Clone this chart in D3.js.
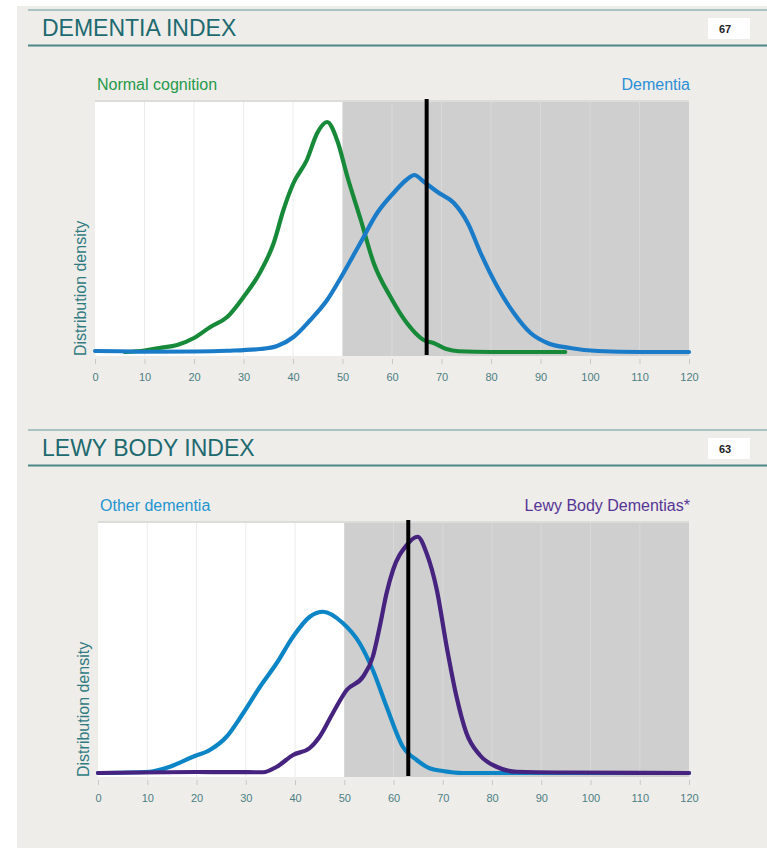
<!DOCTYPE html>
<html>
<head>
<meta charset="utf-8">
<script src="https://cdn.jsdelivr.net/npm/d3@7"></script>
<style>
  html, body { margin: 0; padding: 0; background: #ffffff; }
  svg { display: block; font-family: "Liberation Sans", Arial, sans-serif; }
</style>
</head>
<body>
<svg id="chart" width="767" height="848"></svg>
<script>
// ---------- data ----------
const xTicks = [0, 10, 20, 30, 40, 50, 60, 70, 80, 90, 100, 110, 120];

const dementiaTitle = "DEMENTIA INDEX";
const dementiaScore = 67;
const dementiaThreshold = 50;
const normalLabel = "Normal cognition";
const dementiaLabel = "Dementia";
const normalX = [6, 10, 13, 16.6, 20, 23.3, 26.7, 30, 33.4, 36.1, 38.1, 40.1, 42.8, 44.9, 46.9, 48.9, 51, 53.7, 56.3, 59.7, 63, 66.4, 68.4, 71, 73.5, 80, 90, 95];
const normalY = [0, 0.006, 0.016, 0.028, 0.056, 0.1, 0.14, 0.22, 0.32, 0.436, 0.57, 0.676, 0.768, 0.876, 0.92, 0.848, 0.70, 0.528, 0.356, 0.22, 0.116, 0.048, 0.036, 0.012, 0.003, 0, 0, 0];
const dementiaX = [0, 5, 10, 20, 26.7, 33.4, 36.8, 40.1, 43.5, 46.9, 50.2, 53.6, 57, 60.3, 63, 64.5, 66.5, 69.2, 72.5, 75.3, 77.9, 81.3, 84.6, 88, 91.4, 96, 101.6, 110, 120];
const dementiaY = [0.004, 0.003, 0.001, 0.002, 0.005, 0.012, 0.024, 0.06, 0.128, 0.208, 0.316, 0.436, 0.556, 0.636, 0.69, 0.708, 0.68, 0.64, 0.596, 0.516, 0.396, 0.26, 0.156, 0.076, 0.036, 0.016, 0.004, 0, 0];

const lewyTitle = "LEWY BODY INDEX";
const lewyScore = 63;
const lewyThreshold = 50;
const otherLabel = "Other dementia";
const lewyLabel = "Lewy Body Dementias*";
const otherX = [0, 10.5, 14.6, 19.3, 22.7, 26.1, 29.5, 32.9, 36.3, 39.6, 43, 45.7, 49.7, 53.1, 55.8, 58.6, 61.9, 64.7, 67.3, 70, 74, 80, 120];
const otherY = [0, 0.005, 0.025, 0.065, 0.092, 0.145, 0.24, 0.345, 0.44, 0.545, 0.625, 0.645, 0.6, 0.52, 0.412, 0.265, 0.105, 0.052, 0.019, 0.008, 0, 0, 0];
const lewyX = [0, 20, 33.5, 36.3, 39.6, 43, 45, 47.7, 50.5, 53.8, 55.8, 57.2, 58.6, 59.9, 62.7, 64.9, 66.7, 68.8, 70.8, 72.8, 74.8, 77.5, 80.9, 85, 95, 120];
const lewyY = [0, 0.004, 0.003, 0.025, 0.072, 0.1, 0.145, 0.24, 0.332, 0.385, 0.465, 0.585, 0.72, 0.812, 0.912, 0.945, 0.88, 0.732, 0.505, 0.305, 0.16, 0.072, 0.025, 0.005, 0.002, 0];

const yAxisLabel = "Distribution density";

// ---------- drawing ----------
const svg = d3.select("#chart");
svg.append("rect").attr("x", 17).attr("y", 6).attr("width", 750).attr("height", 842).attr("fill", "#efede9");

const panels = [
  {
    top: 0, title: dementiaTitle, score: dementiaScore, threshold: dementiaThreshold,
    x0: 95, x1: 689, plotTop: 102, plotBottom: 356, base: 352,
    leftLabel: normalLabel, leftColor: "#24994a", rightLabel: dementiaLabel, rightColor: "#2a8fd6",
    series: [
      { xs: normalX, ys: normalY, color: "#178a3a" },
      { xs: dementiaX, ys: dementiaY, color: "#1a7cc8" }
    ]
  },
  {
    top: 420, title: lewyTitle, score: lewyScore, threshold: lewyThreshold,
    x0: 98, x1: 689, plotTop: 523, plotBottom: 777, base: 773,
    leftLabel: otherLabel, leftColor: "#1d95d0", rightLabel: lewyLabel, rightColor: "#553595",
    series: [
      { xs: otherX, ys: otherY, color: "#0b85c6" },
      { xs: lewyX, ys: lewyY, color: "#45237f" }
    ]
  }
];

panels.forEach(p => {
  const g = svg.append("g");
  const t = p.top;
  // header
  g.append("line").attr("x1", 28).attr("x2", 767).attr("y1", t + 10).attr("y2", t + 10)
    .attr("stroke", "#5f9c9c").attr("stroke-width", 1.2);
  g.append("line").attr("x1", 28).attr("x2", 767).attr("y1", t + 45.5).attr("y2", t + 45.5)
    .attr("stroke", "#4a8787").attr("stroke-width", 2);
  g.append("text").attr("x", 42).attr("y", t + 36).text(p.title)
    .attr("fill", "#1d6a70").attr("font-size", 23);
  g.append("rect").attr("x", 708).attr("y", t + 18).attr("width", 42).attr("height", 21).attr("fill", "#ffffff");
  g.append("text").attr("x", 719).attr("y", t + 33).text(p.score)
    .attr("fill", "#222").attr("font-size", 11).attr("font-weight", "bold");

  const x = d3.scaleLinear().domain([0, 120]).range([p.x0, p.x1]);
  const y = d3.scaleLinear().domain([0, 1]).range([p.base, p.base - 250]);

  // series labels
  g.append("text").attr("x", x(0) + 2).attr("y", p.plotTop - 12).text(p.leftLabel)
    .attr("fill", p.leftColor).attr("font-size", 16);
  g.append("text").attr("x", x(120) + 1).attr("y", p.plotTop - 12).text(p.rightLabel)
    .attr("fill", p.rightColor).attr("font-size", 16).attr("text-anchor", "end");

  // plot background
  g.append("line").attr("x1", x(0)).attr("x2", x(120)).attr("y1", p.plotTop - 1).attr("y2", p.plotTop - 1)
    .attr("stroke", "#d6d6d6").attr("stroke-width", 1.5);
  g.append("rect").attr("x", x(0)).attr("y", p.plotTop).attr("width", x(p.threshold) - x(0))
    .attr("height", p.plotBottom - p.plotTop).attr("fill", "#ffffff");
  g.append("rect").attr("x", x(p.threshold)).attr("y", p.plotTop).attr("width", x(120) - x(p.threshold))
    .attr("height", p.plotBottom - p.plotTop).attr("fill", "#cfcfcf");
  // gridlines
  g.selectAll(".grid").data(xTicks.filter(v => v > 0 && v < 120 && v !== p.threshold)).enter()
    .append("line")
    .attr("x1", d => x(d)).attr("x2", d => x(d))
    .attr("y1", p.plotTop).attr("y2", p.plotBottom)
    .attr("stroke", d => d < p.threshold ? "#ececec" : "#d9d9d9").attr("stroke-width", 1);

  // axis
  const axis = d3.axisBottom(x).tickValues(xTicks).tickSize(5).tickPadding(9);
  const ag = g.append("g").attr("transform", `translate(0,${p.plotBottom + 3})`).call(axis);
  ag.select(".domain").remove();
  ag.selectAll(".tick line").attr("stroke", "#c8c8c8");
  ag.selectAll(".tick text").attr("fill", "#4b7e84").attr("font-size", 11)
    .attr("font-family", "'Liberation Sans', Arial, sans-serif");

  // y label
  g.append("text")
    .attr("transform", `translate(${x(0) - 9},${p.plotBottom}) rotate(-90)`)
    .attr("text-anchor", "start").text(yAxisLabel)
    .attr("fill", "#2f7b82").attr("font-size", 16);

  // curves
  const line = d3.line().x(d => x(d[0])).y(d => y(d[1])).curve(d3.curveMonotoneX);
  p.series.forEach(s => {
    const pts = s.xs.map((v, i) => [v, s.ys[i]]);
    g.append("path").attr("d", line(pts)).attr("fill", "none")
      .attr("stroke", s.color).attr("stroke-width", 4.2)
      .attr("stroke-linejoin", "round").attr("stroke-linecap", "round");
  });

  // score marker
  g.append("line").attr("x1", x(p.score)).attr("x2", x(p.score))
    .attr("y1", p.plotTop - 3).attr("y2", p.plotBottom - 1)
    .attr("stroke", "#000").attr("stroke-width", 4);
});
</script>
</body>
</html>
